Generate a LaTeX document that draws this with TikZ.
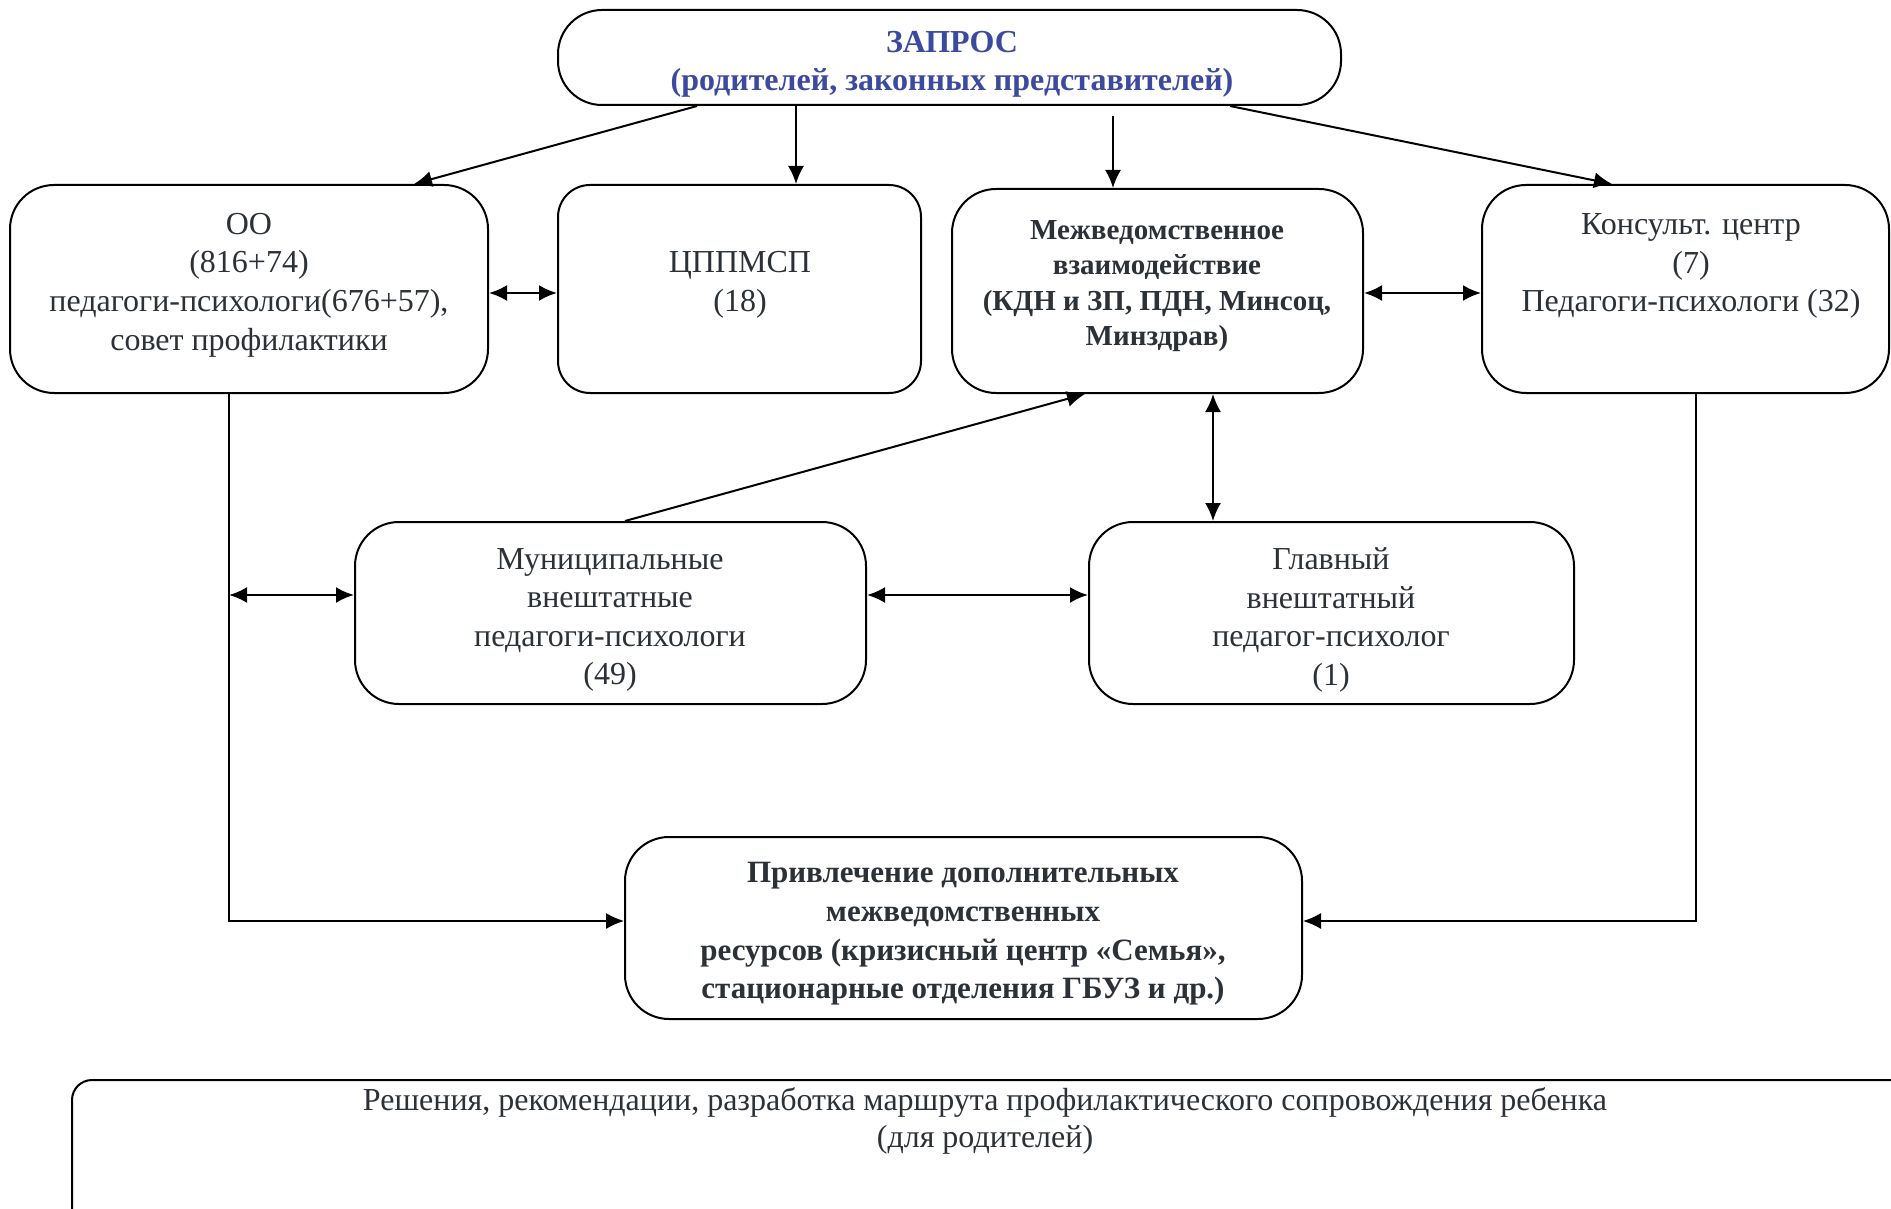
\documentclass[tikz,border=0pt]{standalone}
\usepackage{fontspec}
\setmainfont{Liberation Serif}
\usetikzlibrary{arrows.meta,calc,fit}
\definecolor{txtc}{HTML}{2B3137}
\definecolor{zapc}{HTML}{3B4A9E}
\tikzset{
  box/.style={draw=black, line width=1pt, rounded corners=22pt, inner sep=0pt, fill=white},
  txt/.style={align=center, text=txtc, font=\fontsize{16}{19.3}\selectfont, inner sep=0pt},
  btxt/.style={align=center, text=txtc, font=\fontsize{15.5}{19.3}\selectfont\bfseries, inner sep=0pt},
  tip/.tip={Latex[length=9pt,width=8pt]},
  arr/.style={line width=1pt, -tip},
  darr/.style={line width=1.2pt, tip-tip},
  thin arr/.style={line width=0.7pt, -tip},
}
\begin{document}
\begin{tikzpicture}[x=0.5pt,y=-0.5pt]
\useasboundingbox (0,0) rectangle (1891,1209);
% boxes
\node[box, fit={(558,10)(1341,105)}] (zap) {};
\node[box, fit={(10,185)(488,393)}] (oo) {};
\node[box, rounded corners=16pt, fit={(558,185)(921,393)}] (cp) {};
\node[box, fit={(952,189)(1363,393)}] (mv) {};
\node[box, fit={(1482,185)(1889,393)}] (ks) {};
\node[box, fit={(355,522)(866,704)}] (mu) {};
\node[box, fit={(1089,522)(1574,704)}] (gl) {};
\node[box, fit={(625,837)(1302,1019)}] (pr) {};
\node[box, rounded corners=10pt, fit={(72,1080)(1940,1260)}] (bt) {};
% texts
\node[btxt, text=zapc, font=\fontsize{16}{19.3}\selectfont\bfseries] (zapt) at (952,64.5) {ЗАПРОС\\(родителей, законных представителей)};
\node[txt] (oot) at (249,285) {ОО\\(816+74)\\педагоги-психологи(676+57),\\совет профилактики};
\node[txt] (cpt) at (740,285) {ЦППМСП\\(18)};
\node[btxt, font=\fontsize{14.5}{17.7}\selectfont\bfseries] (mvt) at (1157,286) {Межведомственное\\взаимодействие\\(КДН и ЗП, ПДН, Минсоц,\\Минздрав)};
\node[txt] (kst) at (1691,266) {Консульт. центр\\(7)\\Педагоги-психологи (32)};
\node[txt] (mut) at (610,620) {Муниципальные\\внештатные\\педагоги-психологи\\(49)};
\node[txt] (glt) at (1331,620) {Главный\\внештатный\\педагог-психолог\\(1)};
\node[btxt] (prt) at (963,934) {Привлечение дополнительных\\межведомственных\\ресурсов (кризисный центр «Семья»,\\стационарные отделения ГБУЗ и др.)};
\node[txt, font=\fontsize{16}{18.7}\selectfont] (btt) at (985,1121) {Решения, рекомендации, разработка маршрута профилактического сопровождения ребенка\\(для родителей)};
% connectors
\draw[arr] ($(zap.south)+(-252.5,0)$) -- ($(oo.north)+(165,0)$);
\draw[arr] ($(zap.south)+(-153.5,0)$) -- ($(cp.north)+(56.5,0)$);
\draw[arr] ($(zap.south)+(163.5,10)$) -- ($(mv.north)+(-44.5,0)$);
\draw[arr] ($(zap.south)+(280.5,0)$) -- ($(ks.north)+(-73.5,0)$);
\draw[darr] ($(oo.east)+(0,4)$) -- ($(cp.west)+(0,4)$);
\draw[darr] ($(mv.east)+(0,2)$) -- ($(ks.west)+(0,4)$);
\draw[arr] ($(mu.north)+(14.5,0)$) -- ($(mv.south)+(-72.5,0)$);
\draw[darr, line width=1pt] ($(mv.south)+(55.5,0)$) -- ($(gl.north)+(-118.5,0)$);
\draw[darr] ($(mu.east)+(0,-18)$) -- ($(gl.west)+(0,-18)$);
\coordinate (lx) at ($(oo.south)+(-20,0)$);
\coordinate (rx) at ($(ks.south)+(10.5,0)$);
\draw[thin arr] (lx) |- ($(pr.west)+(0,-7)$);
\draw[thin arr] (rx) |- ($(pr.east)+(0,-7)$);
\draw[darr] (lx |- {$(mu.west)+(0,-18)$}) -- ($(mu.west)+(0,-18)$);
\end{tikzpicture}
\end{document}
